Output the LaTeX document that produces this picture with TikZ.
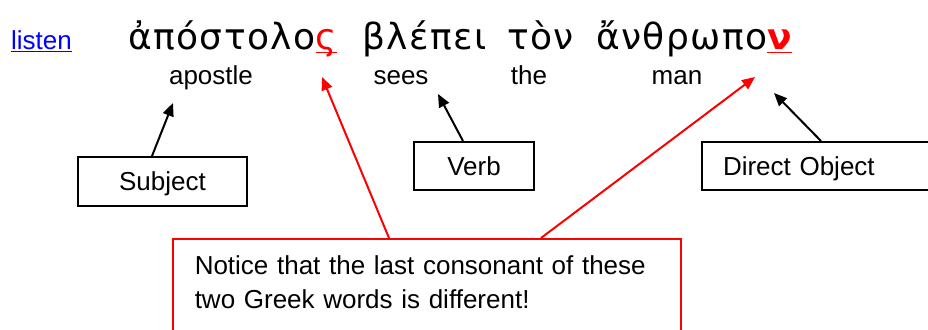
\documentclass[tikz,border=0pt]{standalone}
\usepackage{fontspec}
\setmainfont{Liberation Sans}
\newfontfamily\greekfont[LetterSpace=4]{DejaVu Sans}
\usetikzlibrary{arrows.meta,positioning}

\newcommand\lastletter[1]{\setbox0\hbox{#1}\rlap{\rule[-3pt]{\wd0}{1.2pt}}\box0}

\begin{document}
\begin{tikzpicture}[x=1pt,y=-1pt,
        every node/.style={font=\fontsize{26}{34}\selectfont},
        greek/.style={font=\greekfont\fontsize{36}{40}\selectfont,anchor=base west,inner sep=0pt},
        gloss/.style={anchor=base,inner sep=0pt},
        labelbox/.style={draw,line width=2pt,anchor=north west,text depth=0pt},
        pointer/.style={line width=2pt,-{Triangle[length=13pt,width=11pt]}}]
    \useasboundingbox (0,0) rectangle (928,329);

    % the sentence
    \node[anchor=base west,inner sep=0pt,text=blue] (listen) at (11,50) {\underline{listen}};
    \node[greek] (apostolos) at (128,50) {ἀπόστολο\textcolor{red}{\lastletter{ς}}};
    \node[greek] (blepei) at (362,50) {βλέπει};
    \node[greek] (ton) at (507,50) {τὸν};
    \node[greek] (anthropon) at (596,50) {ἄνθρωπο\textcolor{red}{\lastletter{\bfseries ν}}};

    \node[gloss] (apostle) at (211,84) {apostle};
    \node[gloss] (sees) at (401,84) {sees};
    \node[gloss] (the) at (529,84) {the};
    \node[gloss] (man) at (677,84) {man};

    % the labels
    \node[labelbox,minimum width=169pt,minimum height=49pt] (subj) at (77,156) {Subject};
    \node[labelbox,minimum width=120pt,minimum height=48pt] (verb) at (413,141) {Verb};
    \node[labelbox,text width=240pt,align=left,inner xsep=21pt,minimum height=48pt] (dobj) at (701,141) {Direct Object};

    \coordinate (subjtip) at (173,103);
    \coordinate (verbtip) at (438,94);
    \coordinate (dobjtip) at (774,93);
    \draw[pointer] ([xshift=-10.5pt]subj.north) -- (subjtip);
    \draw[pointer] ([xshift=-11pt]verb.north) -- (verbtip);
    \draw[pointer] ([xshift=120pt]dobj.north west) -- (dobjtip);

    % the note
    \node[draw=red,line width=1.5pt,anchor=north west,text width=464pt,align=left,inner xsep=22pt,inner ysep=17pt] (note) at (172,238)
        {Notice that the last consonant of these\\two Greek words is different!\\\mbox{}};

    \coordinate (sigmatip) at (322,77);
    \coordinate (nutip) at (755,77);
    \draw[pointer,red] ([xshift=217pt]note.north west) -- (sigmatip);
    \draw[pointer,red] ([xshift=369pt]note.north west) -- (nutip);
\end{tikzpicture}
\end{document}
